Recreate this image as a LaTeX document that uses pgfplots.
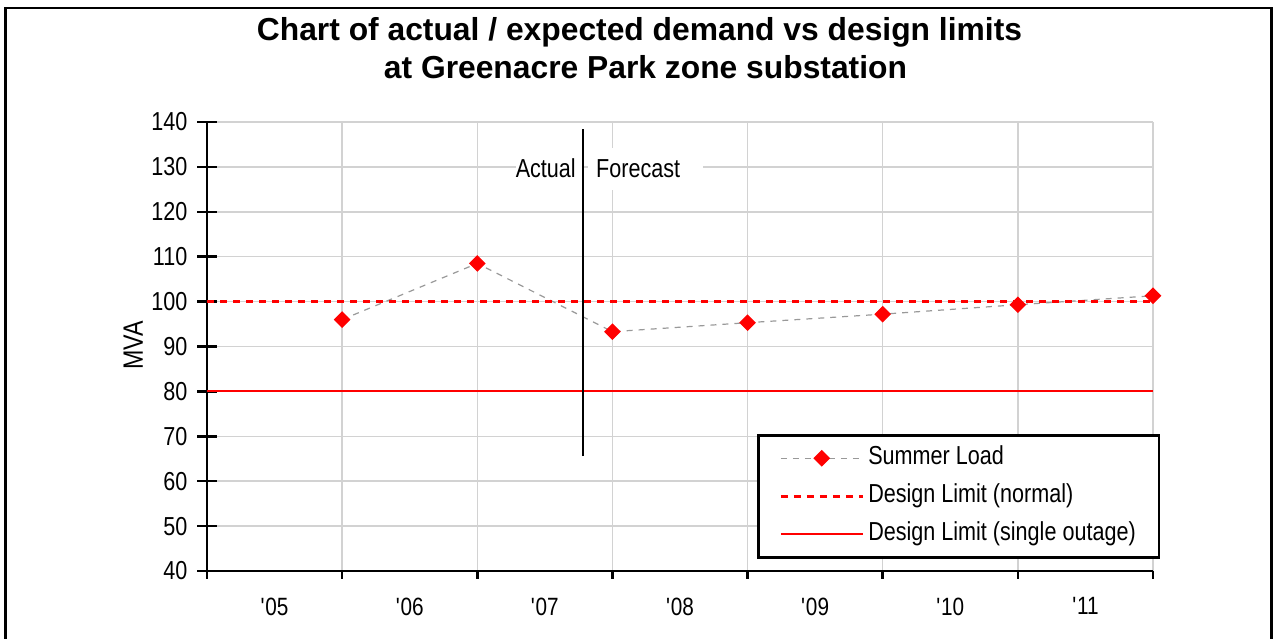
\documentclass[border=0pt]{standalone}
\usepackage{pgfplots}
\pgfplotsset{compat=1.18}
\usepackage{fontspec}
\setmainfont{Liberation Sans}
\newfontfamily\narrow{Liberation Sans}[FakeStretch=0.83]

\begin{document}
\begin{tikzpicture}
\useasboundingbox (0pt,0pt) rectangle (1273pt,639pt);
\draw[line width=2.5pt] (5.5pt,-10pt) -- (5.5pt,631pt) -- (1271.5pt,631pt) -- (1271.5pt,-10pt);
\node[anchor=base, inner sep=0pt, font=\bfseries\fontsize{31.8}{36}\selectfont] at (639.5pt,598.3pt) {Chart of actual / expected demand vs design limits};
\node[anchor=base, inner sep=0pt, font=\bfseries\fontsize{31.8}{36}\selectfont] at (645.5pt,560.7pt) {at Greenacre Park zone substation};
\begin{axis}[
  at={(207pt,68pt)}, anchor=south west,
  scale only axis, width=946pt, height=449pt,
  xmin=0, xmax=7, ymin=40, ymax=140,
  clip=false,
  axis x line*=bottom, axis y line*=left,
  axis line style={line width=2.5pt, -},
  xtick={0,1,...,7},
  xticklabels={},
  extra x ticks={0.5,1.5,2.5,3.5,4.5,5.5,6.5},
  extra x tick labels={\textquotesingle05,\textquotesingle06,\textquotesingle07,\textquotesingle08,\textquotesingle09,\textquotesingle10,\textquotesingle11},
  extra x tick style={grid=none, xtick style={draw=none}},
  ytick={40,50,...,140},
  xtick align=outside, ytick align=center,
  xtick style={black, line width=2.5pt, /pgfplots/major tick length=8pt},
  ytick style={black, line width=2.5pt, /pgfplots/major tick length=20pt},
  xmajorgrids=true, ymajorgrids=true,
  grid style={line width=1.5pt, color=gray!35},
  xticklabel style={font=\narrow\fontsize{25}{30}\selectfont, yshift=-19pt},
  yticklabel style={font=\narrow\fontsize{26}{30}\selectfont, xshift=-14pt},
  /pgf/number format/assume math mode=true,
  ylabel={MVA},
  ylabel style={at={(axis description cs:-0.078,0.503)}, anchor=center, font=\narrow\fontsize{28}{32}\selectfont},
  legend cell align=left,
  legend image code/.code={\draw[mark repeat=2,mark phase=2,#1] plot coordinates {(0pt,0pt) (41pt,0pt) (82pt,0pt)};},
  legend style={at={(axis description cs:0.5814,0.3051)}, anchor=north west,
    draw=black, line width=2.5pt, inner xsep=21pt, inner ysep=8.5pt,
    font=\narrow\fontsize{26}{30}\selectfont,
    nodes={inner sep=2pt, text height=19pt, text depth=6pt},
    row sep=9pt, column sep=2pt},
]
\addplot[color=gray!80, line width=1.2pt, dash pattern=on 6pt off 6pt, mark=square*, mark size=5.3pt, mark options={solid, fill=red, draw=red, rotate=45}] coordinates {(1,96.0) (2,108.5) (3,93.3) (4,95.3) (5,97.2) (6,99.3) (7,101.3)};
\addlegendentry{Summer Load}
\addplot[red, line width=3pt, dash pattern=on 7pt off 6pt] coordinates {(0,100) (7,100)};
\addlegendentry{Design Limit (normal)}
\addplot[red, line width=2pt] coordinates {(0,80) (7,80)};
\addlegendentry{Design Limit (single outage)}
\node[anchor=east, fill=white, inner sep=0pt, minimum height=42pt, font=\narrow\fontsize{26}{30}\selectfont] at (axis cs:2.782,129.6) {Actual\hspace*{7pt}};
\node[anchor=west, fill=white, inner sep=0pt, minimum height=42pt, font=\narrow\fontsize{26}{30}\selectfont] at (axis cs:2.819,129.6) {\hspace*{8pt}Forecast\hspace*{23pt}};
\draw[black, line width=2pt] (axis cs:2.782,65.6) -- (axis cs:2.782,138.4);
\end{axis}
\end{tikzpicture}
\end{document}
